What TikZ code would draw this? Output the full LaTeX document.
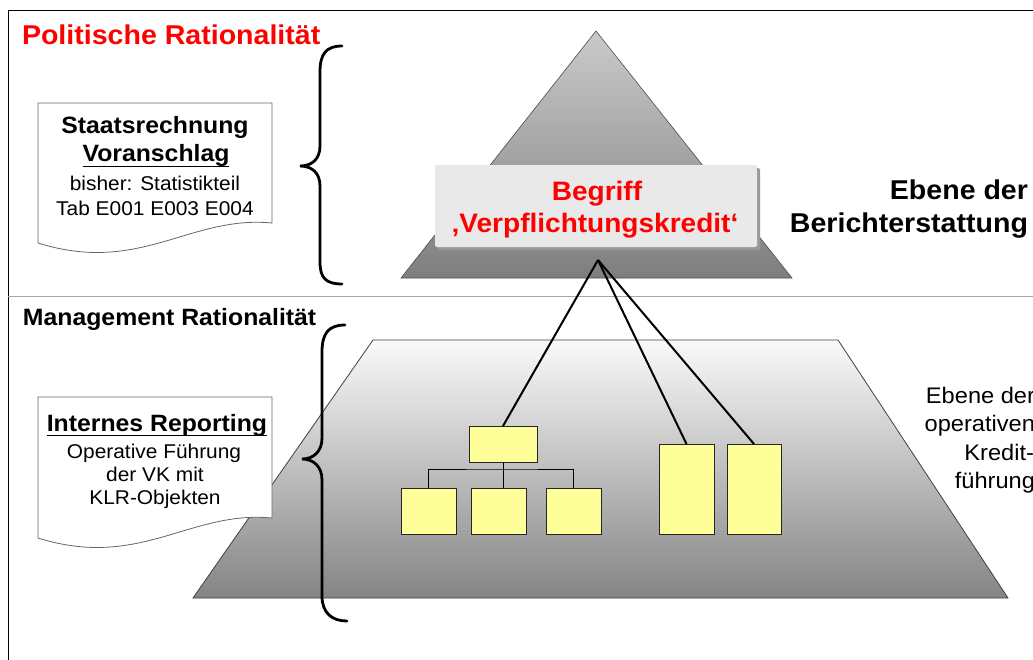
\documentclass[tikz,border=0pt]{standalone}
\usepackage{fontspec}
\setmainfont{Liberation Sans}[FakeStretch=1.05]
\definecolor{boxyellow}{HTML}{FFFF99}
\definecolor{labelgray}{HTML}{E9E9E9}
\definecolor{redtxt}{HTML}{FF0000}
\definecolor{tritop}{HTML}{CACACA}
\definecolor{tribot}{HTML}{7E7E7E}
\definecolor{trapbot}{HTML}{848484}
\begin{document}
\begin{tikzpicture}[x=1pt,y=-1pt,
  txt/.style={inner sep=0pt, outer sep=0pt, anchor=base},
  bigbold/.style={txt, font=\fontsize{27.2}{31}\selectfont\bfseries},
  midbold/.style={txt, font=\fontsize{23.6}{27}\selectfont\bfseries},
  redlabel/.style={txt, font=\fontsize{26.7}{31}\selectfont\bfseries, text=redtxt},
  small/.style={txt, font=\fontsize{19.9}{23}\selectfont},
  sidetxt/.style={txt, anchor=base east, font=\fontsize{22.5}{26}\selectfont},
  ybox/.style={draw=black!85, fill=boxyellow, line width=0.9pt, inner sep=0pt, outer sep=0pt},
  docshape/.style={draw=black!60, fill=white, line width=0.8pt},
  bracepath/.style={draw=black, line width=2.8pt, line cap=round},
  link/.style={draw=black, line width=2pt},
  orgline/.style={draw=black, line width=1pt}
]
\useasboundingbox (0,0) rectangle (1033,659);

% frame and divider
\draw[black, line width=0.8pt] (1040,10.5) -- (8,10.5) -- (8,670);
\draw[black!35, line width=0.8pt] (8,296) -- (1040,296);

% upper pyramid
\shade[top color=tritop, bottom color=tribot, draw=black!70, line width=0.6pt]
  (596,31) -- (792,278) -- (401,278) -- cycle;

% lower trapezoid
\shade[top color=white!98!black, bottom color=trapbot, draw=black!75, line width=0.8pt]
  (373,340) -- (838,340) -- (1008,598) -- (193,598) -- cycle;

% label box with shadow
\fill[black!40, rounded corners=2pt] (438,168) rectangle (760,250);
\fill[labelgray, rounded corners=2pt] (435,165) rectangle (757,247);
\node[redlabel] (begriff) at (597,200) {Begriff};
\node[redlabel] (vk) at (595,232) {‚Verpflichtungskredit‘};
\coordinate (apex) at (598,260);

% yellow boxes
\node[ybox, minimum width=68, minimum height=36] (top) at (503,444) {};
\node[ybox, minimum width=55, minimum height=46] (b1) at (428.5,511) {};
\node[ybox, minimum width=55, minimum height=46] (b2) at (498.5,511) {};
\node[ybox, minimum width=55, minimum height=46] (b3) at (573.5,511) {};
\node[ybox, minimum width=55, minimum height=90] (t1) at (686.5,489) {};
\node[ybox, minimum width=54, minimum height=90] (t2) at (754,489) {};
\coordinate (bus) at (503,469);

\draw[orgline] (top.south) -- (top.south |- b2.north);
\draw[orgline] (b1.north) |- (bus) -| (b3.north);

\draw[link] (apex) -- (top.north);
\draw[link] (apex) -- (t1.north);
\draw[link] (apex) -- (t2.north);

% documents
\draw[docshape] (38,103) -- (272,103) -- (272,223)
  .. controls (190,215) and (140,275) .. (38,243) -- cycle;
\draw[docshape] (38,397) -- (272,397) -- (272,518)
  .. controls (190,510) and (140,570) .. (38,538) -- cycle;

\node[midbold] (staat) at (155,133) {Staatsrechnung};
\node[midbold] (vor) at (156,161) {Voranschlag};
\draw[black, line width=1.8pt] ([yshift=-5.5pt]vor.base west) -- ([yshift=-5.5pt]vor.base east);
\node[small] (bisher) at (155,190) {bisher: Statistikteil};
\node[small] (tab) at (155,215) {Tab E001 E003 E004};

\node[midbold] (intern) at (157,431) {Internes Reporting};
\draw[black, line width=1.8pt] ([yshift=-4.5pt]intern.base west) -- ([yshift=-4.5pt]intern.base east);
\node[small] (oper) at (154,458) {Operative Führung};
\node[small] (dervk) at (155,481.5) {der VK mit};
\node[small] (klr) at (155,504.5) {KLR-Objekten};

% headings
\node[bigbold, anchor=base west, text=redtxt] (polit) at (22,44) {Politische Rationalität};
\node[midbold, anchor=base west] (mgmt) at (23,325) {Management Rationalität};

% right texts
\node[bigbold, anchor=base east] (eb1) at (1028,199) {Ebene der};
\node[bigbold, anchor=base east] (ber) at (1028,232) {Berichterstattung};

\node[sidetxt] (eb2) at (1035,403) {Ebene der};
\node[sidetxt] (opv) at (1035,431.5) {operativen};
\node[sidetxt] (kred) at (1034,460) {Kredit-};
\node[sidetxt] (fuehr) at (1035,488) {führung};

% braces
\draw[bracepath] (342,46) .. controls (326,46) and (320,54) .. (320,72) -- (320,146)
  .. controls (320,159) and (312,166) .. (300,166)
  .. controls (312,166) and (320,173) .. (320,186) -- (320,262)
  .. controls (320,278) and (326,284) .. (342,284);
\draw[bracepath] (345,325) .. controls (328,325) and (322,334) .. (322,352) -- (322,438)
  .. controls (322,451) and (314,459) .. (302,459)
  .. controls (314,459) and (322,467) .. (322,480) -- (322,596)
  .. controls (322,613) and (332,621) .. (347,621);
\end{tikzpicture}
\end{document}
